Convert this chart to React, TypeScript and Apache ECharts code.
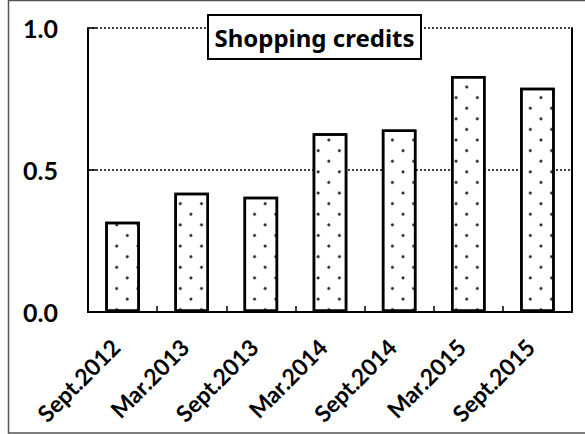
import React, { useEffect, useRef } from "react";
import * as echarts from "echarts";

const categories = ["Sept.2012", "Mar.2013", "Sept.2013", "Mar.2014", "Sept.2014", "Mar.2015", "Sept.2015"];
const values = [0.318, 0.42, 0.406, 0.629, 0.643, 0.831, 0.79];
const yMin = 0;
const yMax = 1.0;
const yInterval = 0.5;
const title = "Shopping credits";

export default function App() {
  const ref = useRef<HTMLDivElement>(null);
  useEffect(() => {
    const chart = echarts.init(ref.current!, null, { renderer: "svg" });
    chart.setOption({
      animation: false,
      backgroundColor: "#ffffff",
      grid: { left: 88, right: 13, top: 28, bottom: 122, containLabel: false },
      xAxis: {
        type: "category",
        data: categories,
        boundaryGap: true,
        axisLine: { show: true, lineStyle: { color: "#000", width: 2 } },
        axisTick: { show: true, inside: true, length: 6, lineStyle: { color: "#000", width: 1.5 } },
        axisLabel: {
          rotate: 45,
          margin: 24,
          padding: [0, 10, 0, 0],
          color: "#000",
          fontFamily: "Lato",
          fontWeight: "bold",
          fontSize: 23,
        },
        splitLine: { show: false },
      },
      yAxis: [
        {
          type: "value",
          min: yMin,
          max: yMax,
          interval: yInterval,
          axisLine: { show: true, lineStyle: { color: "#000", width: 2 } },
          axisTick: { show: true, inside: true, length: 8, lineStyle: { color: "#000", width: 1.5 } },
          axisLabel: {
            margin: 30,
            color: "#000",
            fontFamily: "Lato",
            fontWeight: "bold",
            fontSize: 25,
            formatter: (v: number) => v.toFixed(1),
          },
          splitLine: { show: true, lineStyle: { color: "#000", width: 1.5, type: [2, 2] } },
        },
        {
          type: "value",
          position: "right",
          min: yMin,
          max: yMax,
          interval: yInterval,
          axisLine: { show: true, lineStyle: { color: "#000", width: 2 } },
          axisTick: { show: false },
          axisLabel: { show: false },
          splitLine: { show: false },
        },
      ],
      series: [
        {
          type: "bar",
          data: values,
          barWidth: "50%",
          itemStyle: {
            color: "#ffffff",
            borderColor: "#000",
            borderWidth: 2.5,
            decal: {
              symbol: "circle",
              symbolSize: 1,
              color: "#222",
              dashArrayX: [2.6, 12],
              dashArrayY: [2.6, 12],
              rotation: Math.PI / 4,
            },
          },
        },
      ],
      graphic: [
        {
          type: "rect",
          z: 100,
          shape: { x: 208, y: 15, width: 213, height: 44 },
          style: { fill: "#fff", stroke: "#000", lineWidth: 2 },
        },
        {
          type: "text",
          z: 101,
          x: 314.5,
          y: 37,
          style: {
            text: title,
            fill: "#000",
            font: "bold 24px 'Noto Sans'",
            textAlign: "center",
            textVerticalAlign: "middle",
          },
        },
        {
          type: "rect",
          z: 100,
          shape: { x: 8.5, y: 0.5, width: 600, height: 432.5 },
          style: { fill: "none", stroke: "#555", lineWidth: 1.5 },
        },
      ],
    });
    return () => chart.dispose();
  }, []);
  return <div ref={ref} style={{ position: "absolute", left: 0, top: 0, width: 585, height: 434 }} />;
}
